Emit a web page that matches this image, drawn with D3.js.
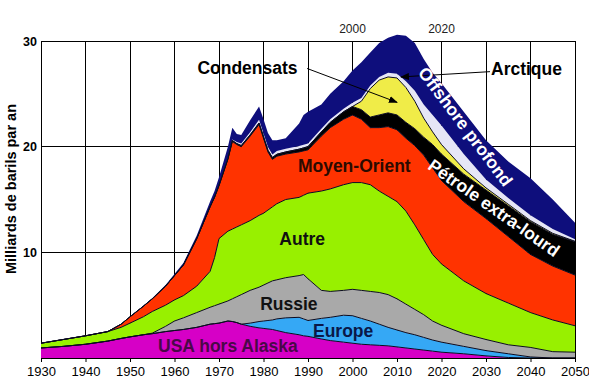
<!DOCTYPE html>
<html>
<head>
<meta charset="utf-8">
<script src="https://cdn.jsdelivr.net/npm/d3@7"></script>
<style>
  body { margin: 0; background: #fff; }
  svg { display: block; }
  .lbl { font-family: "Liberation Sans", Arial, sans-serif; font-weight: bold; font-size: 17.5px; }
  .tick text { font-family: "Liberation Sans", Arial, sans-serif; }
</style>
</head>
<body>
<div id="chart"></div>
<script>
// Data (milliards de barils par an, stacked bottom to top)
var years = [1930,1935,1940,1945,1948,1950,1953,1955,1958,1960,1962,1965,1968,1969,1970,1972,1973,1974,1975,1977,
  1979,1980,1981,1982,1983,1985,1988,1989,1990,1993,1995,1998,2000,2002,2004,2006,2008,2010,2012,2014,
  2016,2018,2020,2025,2030,2035,2040,2045,2050];

var usa = [0.95,1.1,1.3,1.6,1.85,2.0,2.2,2.3,2.5,2.6,2.7,2.9,3.2,3.25,3.3,3.5,3.45,3.35,3.2,3.0,
  2.85,2.8,2.75,2.7,2.6,2.4,2.2,2.1,2.05,1.8,1.65,1.5,1.4,1.3,1.25,1.2,1.15,1.05,0.95,0.85,
  0.75,0.65,0.55,0.4,0.2,0.05,0,0,0];

var europe = [0,0,0,0,0,0,0,0,0,0,0,0,0,0,0,0,0,0,0,0.3,
  0.6,0.7,0.8,0.9,1.1,1.4,1.65,1.6,1.5,1.95,2.2,2.55,2.6,2.45,2.25,2.0,1.75,1.6,1.45,1.35,
  1.2,1.05,0.95,0.7,0.5,0.35,0.1,0,0];

var russie = [0,0,0,0,0,0,0,0.05,0.5,0.9,1.1,1.4,1.6,1.7,1.8,1.9,2.15,2.45,2.8,3.1,
  3.25,3.4,3.55,3.7,3.7,3.8,3.95,4.2,3.95,2.65,2.45,2.35,2.5,2.65,2.8,3.0,3.1,2.95,2.7,2.4,
  2.15,1.8,1.6,1.2,1.05,0.85,0.9,0.6,0.55];

var autre = [0.45,0.65,0.8,0.9,1.05,1.3,1.7,2.05,2.0,2.0,2.1,2.5,3.4,4.55,6.2,6.6,6.6,6.6,6.6,6.6,
  6.8,6.8,6.9,7.0,7.2,7.4,7.4,7.5,8.1,9.4,9.7,10.0,10.1,10.2,10.1,9.6,9.3,9.2,8.8,8.0,
  7.1,6.3,5.8,5.0,4.35,3.95,3.3,3.0,2.5];

var moyenOrient = [0,0,0,0,0.3,0.6,1.0,1.2,1.8,2.3,2.9,4.5,6.1,5.7,5.0,6.8,8.3,7.8,7.4,8.0,
  8.6,7.1,5.5,4.5,4.5,4.3,4.3,4.2,4.1,5.2,5.8,6.2,6.4,6.0,5.4,6.0,6.6,6.8,6.9,7.5,
  8.0,8.2,7.9,7.5,7.1,6.3,5.5,5.1,4.8];

var extraLourd = [0,0,0,0,0,0,0,0,0,0,0,0,0.03,0.04,0.05,0.07,0.08,0.09,0.1,0.12,
  0.14,0.15,0.16,0.17,0.18,0.2,0.26,0.28,0.3,0.4,0.5,0.7,0.8,0.9,1.0,1.2,1.3,1.4,1.5,1.6,
  1.7,2.2,2.5,2.6,2.7,2.9,3.1,3.0,3.15];

var condensats = [0,0,0,0,0,0,0,0,0,0,0,0,0,0,0,0,0,0,0,0,
  0,0,0,0,0,0,0,0,0,0,0,0,0,0.8,2.7,3.3,3.4,3.5,3.3,2.6,
  1.8,1.2,0.9,0.5,0.2,0.15,0.1,0.1,0.05];

var arctique = [0,0,0,0,0,0,0,0,0,0,0,0,0.03,0.04,0.05,0.1,0.1,0.15,0.2,0.25,
  0.3,0.3,0.3,0.3,0.3,0.3,0.3,0.3,0.3,0.3,0.3,0.3,0.35,0.3,0.3,0.3,0.4,0.4,0.6,1.0,
  1.3,1.6,1.8,1.4,0.8,0.6,0.5,0.4,0.2];

var offshore = [0,0,0,0,0,0,0.03,0.05,0.1,0.15,0.2,0.3,0.44,0.52,0.7,1.03,1.12,0.76,0.8,1.13,
  1.26,1.35,1.34,1.33,1.02,1.0,2.14,2.82,3.0,2.3,2.4,2.6,3.05,3.4,3.1,3.2,3.3,3.7,4.3,4.5,
  4.3,4.0,4.0,4.0,3.7,3.45,3.5,2.8,1.55];

var xTicks = [1930,1940,1950,1960,1970,1980,1990,2000,2010,2020,2030,2040,2050];
var xTopTicks = [2000, 2020];
var yTicks = [10, 20, 30];

var keys = ["usa","europe","russie","autre","moyenOrient","extraLourd","condensats","arctique","offshore"];
var series = {usa: usa, europe: europe, russie: russie, autre: autre, moyenOrient: moyenOrient,
  extraLourd: extraLourd, condensats: condensats, arctique: arctique, offshore: offshore};
var colors = {usa: "#d600c6", europe: "#35a8f5", russie: "#a9a9a9", autre: "#98f000",
  moyenOrient: "#ff3300", extraLourd: "#000000", condensats: "#f0ec48", arctique: "#e6e6f6", offshore: "#0e0e7c"};

var table = years.map(function (yr, i) {
  var row = {year: yr};
  keys.forEach(function (k) { row[k] = series[k][i]; });
  return row;
});

var svgWidth = 589, svgHeight = 386;
var margin = {top: 41, right: 14, bottom: 28, left: 41};
var width = svgWidth - margin.left - margin.right;
var height = svgHeight - margin.top - margin.bottom;

var svg = d3.select("#chart").append("svg")
  .attr("width", svgWidth)
  .attr("height", svgHeight);

var defs = svg.append("defs");
defs.append("marker")
  .attr("id", "arrow")
  .attr("markerUnits", "userSpaceOnUse")
  .attr("markerWidth", 9).attr("markerHeight", 7)
  .attr("refX", 8).attr("refY", 3.5)
  .attr("orient", "auto")
  .append("path").attr("d", "M0,0 L9,3.5 L0,7 z").attr("fill", "#000");

var g = svg.append("g").attr("transform", `translate(${margin.left}, ${margin.top})`);

var x = d3.scaleLinear().domain([1930, 2050]).range([0, width]);
var y = d3.scaleLinear().domain([0, 30]).range([height, 0]);

// grid
g.selectAll(".vgrid").data(xTicks).enter().append("line")
  .attr("x1", d => x(d)).attr("x2", d => x(d))
  .attr("y1", y(30)).attr("y2", y(0))
  .attr("stroke", "#000").attr("stroke-width", 1).attr("shape-rendering", "crispEdges");
g.selectAll(".hgrid").data(yTicks).enter().append("line")
  .attr("x1", 0).attr("x2", width)
  .attr("y1", d => y(d)).attr("y2", d => y(d))
  .attr("stroke", "#000").attr("stroke-width", 1).attr("shape-rendering", "crispEdges");

// stacked areas
var stacked = d3.stack().keys(keys)(table);

var area = d3.area()
  .x(d => x(d.data.year))
  .y0(d => y(d[0]))
  .y1(d => y(d[1]));

var topLine = d3.line()
  .x(d => x(d.data.year))
  .y(d => y(d[1]));

g.selectAll(".layer").data(stacked).enter().append("path")
  .attr("d", area)
  .attr("fill", d => colors[d.key]);

g.selectAll(".edge").data(stacked.filter(d => d.key !== "arctique" && d.key !== "offshore")).enter().append("path")
  .attr("d", topLine)
  .attr("fill", "none")
  .attr("stroke", "#0a0a20")
  .attr("stroke-width", 1);

// axes
var bottomAxis = d3.axisBottom(x).tickValues(xTicks).tickFormat(d3.format("d"))
  .tickSize(4).tickSizeOuter(0).tickPadding(5);
var xAxis = g.append("g").attr("transform", `translate(0, ${height})`).call(bottomAxis);
xAxis.select(".domain").attr("stroke", "#000");
xAxis.selectAll("text").attr("font-size", 13).attr("fill", "#000");

var leftAxis = d3.axisLeft(y).tickValues(yTicks).tickSize(0).tickPadding(4);
var yAxis = g.append("g").call(leftAxis);
yAxis.select(".domain").remove();
yAxis.selectAll("text").attr("font-size", 12.5).attr("font-weight", "bold").attr("fill", "#000");

g.selectAll(".toptick").data(xTopTicks).enter().append("text")
  .attr("x", d => x(d)).attr("y", -8)
  .attr("text-anchor", "middle")
  .attr("font-family", "Liberation Sans, Arial, sans-serif")
  .attr("font-size", 12).attr("fill", "#222")
  .text(d => d);

svg.append("text")
  .attr("transform", "translate(16, 189) rotate(-90)")
  .attr("text-anchor", "middle")
  .attr("class", "lbl")
  .attr("font-size", 14.5).style("font-size", "14.5px")
  .text("Milliards de barils par an");

// annotations
g.append("line")
  .attr("x1", x(1989.8)).attr("y1", y(27.4))
  .attr("x2", x(2010)).attr("y2", y(24.2))
  .attr("stroke", "#000").attr("marker-end", "url(#arrow)");
g.append("line")
  .attr("x1", x(2030.9)).attr("y1", y(27.1))
  .attr("x2", x(2010.9)).attr("y2", y(26.6))
  .attr("stroke", "#000").attr("marker-end", "url(#arrow)");

function label(txt, yr, v, color) {
  return g.append("text").attr("class", "lbl")
    .attr("x", x(yr)).attr("y", y(v))
    .attr("text-anchor", "middle")
    .attr("fill", color).text(txt);
}
label("USA hors Alaska", 1972, 0.57, "#4a0848");
label("Europe", 1997.9, 2.0, "#0a1848");
label("Russie", 1985.7, 4.55, "#111");
label("Autre", 1988.7, 10.7, "#111");
label("Moyen-Orient", 2000.4, 17.6, "#2b0a00");
label("Condensats", 1976.4, 26.9, "#000");
label("Arctique", 2039.1, 26.8, "#000");

g.append("text").attr("class", "lbl")
  .attr("transform", `translate(${x(2025.4)}, ${y(21.9)}) rotate(53)`)
  .attr("text-anchor", "middle").attr("dy", "0.35em")
  .attr("fill", "#fff").text("Offshore profond");

g.append("text").attr("class", "lbl")
  .attr("transform", `translate(${x(2031.8)}, ${y(14.2)}) rotate(35)`)
  .attr("text-anchor", "middle").attr("dy", "0.35em")
  .attr("fill", "#fff").text("Pétrole extra-lourd");
</script>
</body>
</html>
